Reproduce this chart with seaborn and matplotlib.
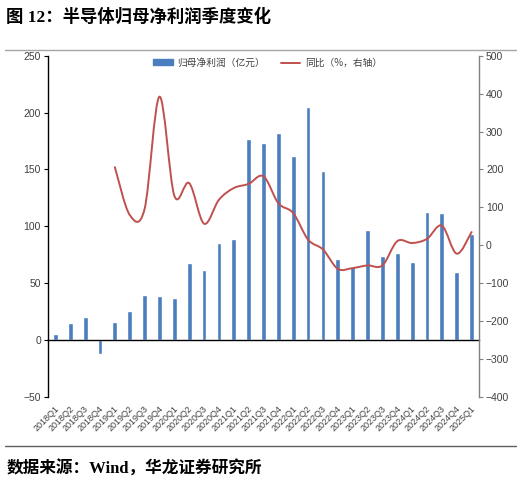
import numpy as np
import pandas as pd
import matplotlib
matplotlib.use("Agg")
import matplotlib.pyplot as plt
import matplotlib.transforms as mtransforms
from matplotlib.path import Path
from matplotlib.patches import PathPatch, Patch
from matplotlib.lines import Line2D
import seaborn as sns

quarters = [
    "2018Q1", "2018Q2", "2018Q3", "2018Q4",
    "2019Q1", "2019Q2", "2019Q3", "2019Q4",
    "2020Q1", "2020Q2", "2020Q3", "2020Q4",
    "2021Q1", "2021Q2", "2021Q3", "2021Q4",
    "2022Q1", "2022Q2", "2022Q3", "2022Q4",
    "2023Q1", "2023Q2", "2023Q3", "2023Q4",
    "2024Q1", "2024Q2", "2024Q3", "2024Q4",
    "2025Q1",
]
profit = [5, 15, 20, -12, 16, 26, 40, 39, 37, 68, 62, 85, 89, 177, 173, 182,
          162, 205, 149, 71, 64, 97, 74, 77, 69, 113, 112, 60, 93]
# 同比 starts at 2019Q1
yoy = [206, 80, 96, 392, 131, 164, 57, 120, 151, 162, 182, 111, 85, 15, -11,
       -62, -60, -53, -53, 11, 6, 17, 52, -22, 35]

bar_color = "#4a7ebf"
line_color = "#c0504d"
tick_font = ["Liberation Sans", "DejaVu Sans"]
head_font = ["Liberation Serif", "Noto Sans CJK SC"]

sns.set_style("white")
plt.rcParams["font.family"] = ["Noto Sans CJK SC", "DejaVu Sans"]
plt.rcParams["axes.unicode_minus"] = True

df = pd.DataFrame({"quarter": quarters, "profit": profit})

fig = plt.figure(figsize=(5.21, 4.86), dpi=100)
ax = fig.add_axes([0.0921, 0.1831, 0.8273, 0.7023])
sns.barplot(data=df, x="quarter", y="profit", order=quarters, color=bar_color,
            width=0.32, saturation=1, ax=ax)
ax.set_xlim(-0.5, len(quarters) - 0.5)
ax.set_ylim(-50, 250)
ax.set_yticks(np.arange(-50, 251, 50))
ax.set_xlabel("")
ax.set_ylabel("")

# x axis drawn at zero, labels at bottom
ax.spines["bottom"].set_position(("data", 0))
ax.spines["bottom"].set_color("black")
ax.spines["bottom"].set_linewidth(1.0)
ax.spines["top"].set_visible(False)
ax.spines["right"].set_visible(False)
ax.spines["left"].set_color("black")
ax.spines["left"].set_linewidth(1.0)
ax.set_xticks(range(len(quarters)))
ax.set_xticklabels([])
ax.tick_params(axis="x", which="major", length=0)
ax.set_xticks(np.arange(-0.5, len(quarters), 1), minor=True)
ax.tick_params(axis="x", which="minor", length=3, direction="out", color="black")
ax.tick_params(axis="y", length=3, direction="out", color="black",
               labelsize=7.5, labelcolor="#404040", pad=2)
for lab in ax.get_yticklabels():
    lab.set_family(tick_font)

trans = mtransforms.blended_transform_factory(ax.transData, ax.transAxes)
for i, q in enumerate(quarters):
    ax.text(i + 0.15, -0.03, q, transform=trans, rotation=45,
            rotation_mode="anchor", ha="right", va="center",
            fontsize=6.5, color="#404040", family=tick_font)

# right axis: smooth line
ax2 = ax.twinx()
ax2.set_position(ax.get_position())
ax2.set_ylim(-400, 500)
ax2.set_yticks(np.arange(-400, 501, 100))
for s in ["top", "left", "bottom"]:
    ax2.spines[s].set_visible(False)
ax2.spines["right"].set_color("#808080")
ax2.spines["right"].set_linewidth(1.0)
ax2.tick_params(axis="y", length=3, direction="out", color="#808080",
                labelsize=7.5, labelcolor="#404040", pad=2)
for lab in ax2.get_yticklabels():
    lab.set_family(tick_font)

xs = np.arange(len(quarters) - len(yoy), len(quarters), dtype=float)
ys = np.array(yoy, dtype=float)
pts = np.column_stack([xs, ys])
verts = [tuple(pts[0])]
codes = [Path.MOVETO]
n = len(pts)
for k in range(n - 1):
    p0 = pts[k - 1] if k > 0 else pts[k]
    p1 = pts[k]
    p2 = pts[k + 1]
    p3 = pts[k + 2] if k + 2 < n else pts[k + 1]
    c1 = p1 + (p2 - p0) / 6.0
    c2 = p2 - (p3 - p1) / 6.0
    verts += [tuple(c1), tuple(c2), tuple(p2)]
    codes += [Path.CURVE4, Path.CURVE4, Path.CURVE4]
ax2.add_patch(PathPatch(Path(verts, codes), fill=False, edgecolor=line_color,
                        linewidth=1.4, capstyle="round", joinstyle="round"))

handles = [Patch(facecolor=bar_color, edgecolor=bar_color),
           Line2D([0], [0], color=line_color, linewidth=1.4)]
labels = ["归母净利润（亿元）", "同比（%，右轴）"]
ax.legend(handles, labels, loc="upper center", bbox_to_anchor=(0.51, 1.02),
          ncol=2, frameon=False, fontsize=7, labelcolor="#404040",
          handlelength=2.0, handleheight=0.5, handletextpad=0.5,
          columnspacing=1.6)

# title, rules and source
fig.text(0.012, 0.965, "图 12：半导体归母净利润季度变化", fontsize=12.5,
         fontweight="bold", color="black", va="center", ha="left",
         family=head_font)
fig.add_artist(Line2D([0.01, 0.99], [1 - 50 / 486, 1 - 50 / 486],
                      color="#a6a6a6", linewidth=1.0))
fig.add_artist(Line2D([0.01, 0.99], [1 - 446 / 486, 1 - 446 / 486],
                      color="#606060", linewidth=1.0))
fig.text(0.012, 1 - 469 / 486, "数据来源：Wind，华龙证券研究所", fontsize=12,
         fontweight="bold", color="black", va="center", ha="left",
         family=head_font)

fig.savefig("out.png", dpi=100)
